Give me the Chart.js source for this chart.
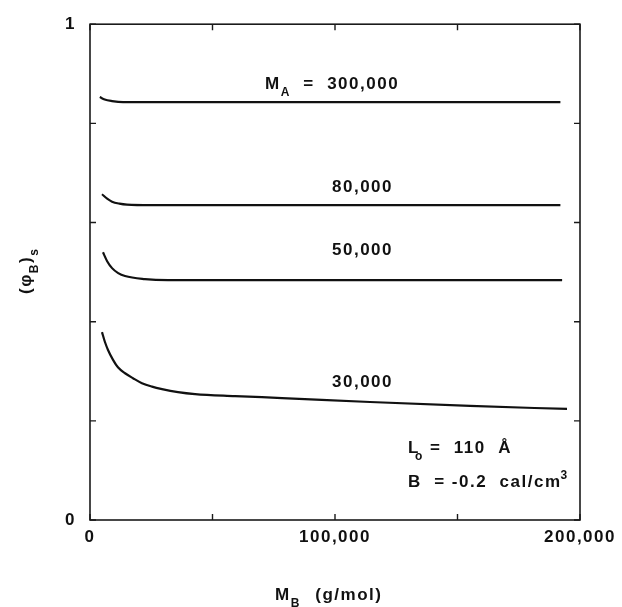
<!DOCTYPE html>
<html>
<head>
<meta charset="utf-8">
<script src="https://cdn.jsdelivr.net/npm/chart.js@4"></script>
<style>
  html, body { margin: 0; padding: 0; background: #fff; }
  #wrap { width: 622px; height: 607px; }
</style>
</head>
<body>
<div id="wrap"><canvas id="phi_chart"></canvas></div>
<script>
// Data: M_B (g/mol) vs (phi_B)_s
var mb300k = [4000, 6000, 9000, 13500, 20000, 192000];
var phi300k = [0.853, 0.848, 0.845, 0.843, 0.843, 0.843];

var mb80k = [4900, 7000, 9000, 12000, 15100, 25000, 192000];
var phi80k = [0.657, 0.648, 0.642, 0.638, 0.636, 0.635, 0.635];

var mb50k = [5300, 7000, 9000, 11500, 14300, 22400, 31800, 192700];
var phi50k = [0.540, 0.522, 0.508, 0.498, 0.492, 0.486, 0.484, 0.484];

var mb30k = [4900, 6100, 7350, 9400, 11400, 14300, 17550, 21200, 25300, 29400, 35900, 42900, 59200, 78400, 114300, 155100, 194700];
var phi30k = [0.379, 0.359, 0.343, 0.323, 0.308, 0.296, 0.286, 0.276, 0.269, 0.264, 0.258, 0.254, 0.250, 0.246, 0.238, 0.230, 0.224];

var xTickLabels = { 0: '0', 100000: '100,000', 200000: '200,000' };
var yTickLabels = { 0: '0', 1: '1' };

var FONT = '"Liberation Sans", Arial, sans-serif';

function toPoints(xs, ys) {
    return xs.map(function(x, i) { return { x: x, y: ys[i] }; });
}

function curve(xs, ys) {
    return {
        data: toPoints(xs, ys),
        borderColor: '#111',
        borderWidth: 2.2,
        pointRadius: 0,
        fill: false,
        cubicInterpolationMode: 'monotone'
    };
}

// draws text made of parts, some sub/superscript
function drawRich(ctx, x, y, parts) {
    var cx = x;
    parts.forEach(function(p) {
        var size = p.sub || p.sup ? 12 : 17;
        ctx.font = 'bold ' + size + 'px ' + FONT;
        cx += p.dx || 0;
        var dy = p.sub ? 7 : (p.sup ? -8 : 0);
        ctx.fillText(p.t, cx, y + dy);
        cx += ctx.measureText(p.t).width;
    });
}

var spacingPlugin = {
    id: 'spacing',
    beforeDraw: function(chart) {
        chart.ctx.letterSpacing = '1.5px';
    }
};

var framePlugin = {
    id: 'frame',
    afterDraw: function(chart) {
        var ctx = chart.ctx, a = chart.chartArea;
        var xs = chart.scales.x, ys = chart.scales.y;
        ctx.save();
        ctx.strokeStyle = '#1a1a1a';
        ctx.lineWidth = 1.6;
        ctx.strokeRect(a.left, a.top, a.right - a.left, a.bottom - a.top);
        ctx.lineWidth = 1.4;
        ctx.beginPath();
        xs.ticks.forEach(function(t) {
            var px = xs.getPixelForValue(t.value);
            ctx.moveTo(px, a.bottom); ctx.lineTo(px, a.bottom - 6);
            ctx.moveTo(px, a.top); ctx.lineTo(px, a.top + 6);
        });
        ys.ticks.forEach(function(t) {
            var py = ys.getPixelForValue(t.value);
            ctx.moveTo(a.left, py); ctx.lineTo(a.left + 6, py);
            ctx.moveTo(a.right, py); ctx.lineTo(a.right - 6, py);
        });
        ctx.stroke();

        // curve labels and parameters
        ctx.fillStyle = '#111';
        ctx.textAlign = 'left';
        ctx.textBaseline = 'alphabetic';
        var labels = chart.options.plugins.frame.labels;
        labels.forEach(function(l) {
            drawRich(ctx, xs.getPixelForValue(l.x), ys.getPixelForValue(l.y), l.parts);
        });

        // axis titles
        drawRich(ctx, 275, 600, [{ t: 'M' }, { t: 'B', sub: true }, { t: '  (g/mol)', dx: 2 }]);
        ctx.translate(31, 294);
        ctx.rotate(-Math.PI / 2);
        drawRich(ctx, 0, 0, [{ t: '(\u03c6' }, { t: 'B', sub: true }, { t: ')' }, { t: 's', sub: true }]);
        ctx.restore();
    }
};

new Chart(document.getElementById('phi_chart').getContext('2d'), {
    type: 'line',
    data: {
        datasets: [
            curve(mb300k, phi300k),
            curve(mb80k, phi80k),
            curve(mb50k, phi50k),
            curve(mb30k, phi30k)
        ]
    },
    options: {
        responsive: true,
        maintainAspectRatio: false,
        animation: false,
        layout: { padding: { left: 0, top: 24, right: 42, bottom: 0 } },
        plugins: {
            legend: { display: false },
            tooltip: { enabled: false },
            frame: {
                labels: [
                    { x: 71429, y: 0.869, parts: [{ t: 'M' }, { t: 'A', sub: true }, { t: '  =  300,000' }] },
                    { x: 98776, y: 0.661, parts: [{ t: '80,000' }] },
                    { x: 98776, y: 0.534, parts: [{ t: '50,000' }] },
                    { x: 98776, y: 0.268, parts: [{ t: '30,000' }] },
                    { x: 129796, y: 0.135, parts: [{ t: 'L' }, { t: 'o', sub: true, dx: -5 }, { t: ' =  110  \u00c5' }] },
                    { x: 129796, y: 0.0665, parts: [{ t: 'B  = -0.2  cal/cm' }, { t: '3', sup: true, dx: -1 }] }
                ]
            }
        },
        scales: {
            x: {
                type: 'linear',
                min: 0,
                max: 200000,
                grid: { display: false, drawTicks: false },
                border: { display: false },
                ticks: {
                    stepSize: 50000,
                    padding: 7,
                    maxRotation: 0,
                    autoSkip: false,
                    color: '#111',
                    font: { family: FONT, size: 17, weight: 'bold' },
                    callback: function(v) { return xTickLabels[v] || ''; }
                },
                afterFit: function(scale) { scale.height = 87; }
            },
            y: {
                type: 'linear',
                min: 0,
                max: 1,
                grid: { display: false, drawTicks: false },
                border: { display: false },
                ticks: {
                    stepSize: 0.2,
                    padding: 14,
                    color: '#111',
                    font: { family: FONT, size: 17, weight: 'bold' },
                    callback: function(v) { return yTickLabels[v] || ''; }
                },
                afterFit: function(scale) { scale.width = 90; }
            }
        }
    },
    plugins: [spacingPlugin, framePlugin]
});
</script>
</body>
</html>
